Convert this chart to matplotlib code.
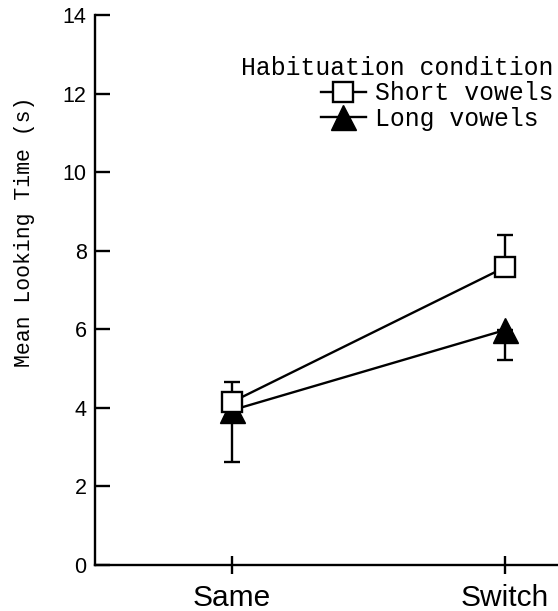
import matplotlib

matplotlib.use("Agg")
import matplotlib.pyplot as plt
from matplotlib.lines import Line2D

# data
conditions = ["Same", "Switch"]
short_mean = [4.15, 7.58]
short_err = [0.51, 0.82]   # drawn upward only
long_mean = [3.94, 5.98]
long_err = [1.32, 0.76]    # drawn downward only
yticks = [0, 2, 4, 6, 8, 10, 12, 14]

mono = "Liberation Mono"
sans = "Liberation Sans"

fig = plt.figure(figsize=(5.58, 6.11), dpi=100)
ax = fig.add_axes([0.1703, 0.0753, 0.8297, 0.9002])

x = list(range(len(conditions)))
lw = 1.7

ax.errorbar(x, long_mean, yerr=[long_err, [0, 0]], fmt="-^", color="black",
            mfc="black", mec="black", ms=18, lw=lw, elinewidth=lw,
            capsize=6, capthick=lw, zorder=2)
ax.errorbar(x, short_mean, yerr=[[0, 0], short_err], fmt="-s", color="black",
            mfc="white", mec="black", mew=lw, ms=14.5, lw=lw, elinewidth=lw,
            capsize=6, capthick=lw, zorder=3)

ax.set_xlim(-0.502, 1.194)
ax.set_ylim(0, 14)
ax.set_xticks(x)
ax.set_xticklabels(conditions, fontsize=21.5, family=sans)
ax.set_yticks(yticks)
ax.set_yticklabels([str(t) for t in yticks], fontsize=15.5, family=sans)

ax.spines["top"].set_visible(False)
ax.spines["right"].set_visible(False)
ax.spines["left"].set_linewidth(lw)
ax.spines["bottom"].set_linewidth(lw)
ax.tick_params(axis="y", direction="in", length=11, width=lw, pad=6)
ax.tick_params(axis="x", direction="inout", length=13, width=lw, pad=7)

ax.set_ylabel("Mean Looking Time (s)", fontsize=15.5, family=mono)
ax.yaxis.set_label_coords(-0.13, 0.605)

handles = [
    Line2D([], [], color="black", lw=lw, marker="s", mfc="white", mec="black",
           mew=lw, ms=14.5),
    Line2D([], [], color="black", lw=lw, marker="^", mfc="black", mec="black",
           ms=18),
]
leg = ax.legend(handles, ["Short vowels", "Long vowels"],
                title="Habituation condition", loc="upper right",
                bbox_to_anchor=(1.0, 0.934), frameon=False,
                prop={"family": mono, "size": 17.8},
                title_fontproperties={"family": mono, "size": 17.8},
                handlelength=1.82, handletextpad=0.36, labelspacing=0.05,
                borderaxespad=0, borderpad=0.2, alignment="right")

fig.savefig("out.png", dpi=100)
